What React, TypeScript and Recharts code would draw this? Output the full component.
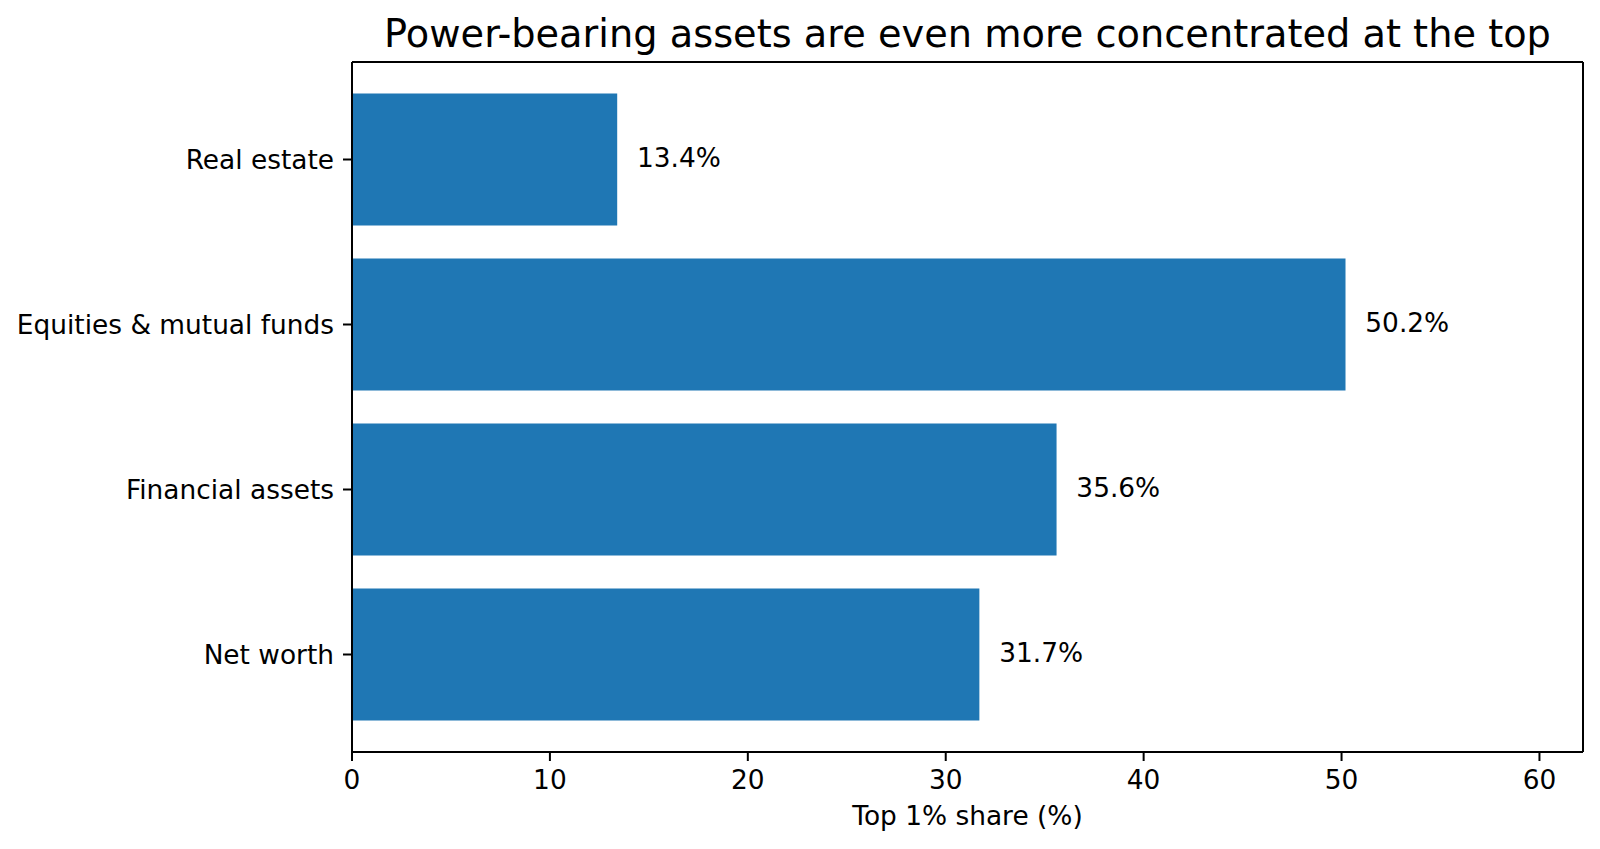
import React from 'react';
import { BarChart, Bar, XAxis, YAxis, LabelList } from 'recharts';

const categories = ['Real estate', 'Equities & mutual funds', 'Financial assets', 'Net worth'];
const shares = [13.4, 50.2, 35.6, 31.7];
const xTicks = [0, 10, 20, 30, 40, 50, 60];
const xMax = 62.2;

const data = categories.map((name, i) => ({ name, share: shares[i] }));

const FONT = '"DejaVu Sans", sans-serif';
const BLUE = '#1f77b4';
const spine = { stroke: '#000', strokeWidth: 2 };
const FS = 26.4;

// value label sits one data unit past the end of the bar
const renderValue = (props: any) => {
    const x = Number(props.x);
    const y = Number(props.y);
    const width = Number(props.width);
    const height = Number(props.height);
    const value = Number(props.value);
    const unit = width / value;
    return (
        <text x={x + width + unit} y={y + height / 2 + 7.7} fontSize={FS} fontFamily={FONT} fill="#000">
            {value.toFixed(1)}%
        </text>
    );
};

const renderAxisLabel = (props: any) => {
    const vb = props.viewBox || { x: 344, y: 744, width: 1231 };
    return (
        <text x={vb.x + vb.width / 2} y={vb.y + 73} textAnchor="middle" fontSize={FS} fontFamily={FONT} fill="#000">
            Top 1% share (%)
        </text>
    );
};

const App: React.FC = () => {
    return (
        <div style={{ width: 1584, height: 833 }}>
            <BarChart
                width={1584}
                height={833}
                layout="vertical"
                data={data}
                barCategoryGap="10%"
                margin={{ top: 53, right: 8, bottom: 0, left: 0 }}
            >
                <XAxis
                    type="number"
                    domain={[0, xMax]}
                    ticks={xTicks}
                    interval={0}
                    allowDataOverflow
                    height={89}
                    tickSize={9}
                    tickMargin={9}
                    axisLine={spine}
                    tickLine={spine}
                    tick={{ fill: '#000', fontSize: FS, fontFamily: FONT }}
                    label={{ content: renderAxisLabel }}
                />
                <XAxis
                    xAxisId="top"
                    orientation="top"
                    type="number"
                    domain={[0, xMax]}
                    height={1}
                    tick={false}
                    tickLine={false}
                    axisLine={spine}
                />
                <YAxis
                    type="category"
                    dataKey="name"
                    width={344}
                    padding={{ top: 15, bottom: 15 }}
                    tickSize={9}
                    tickMargin={9}
                    interval={0}
                    axisLine={spine}
                    tickLine={spine}
                    tick={{ fill: '#000', fontSize: FS, fontFamily: FONT }}
                />
                <YAxis
                    yAxisId="right"
                    orientation="right"
                    type="category"
                    dataKey="name"
                    width={1}
                    tick={false}
                    tickLine={false}
                    axisLine={spine}
                />
                <Bar dataKey="share" fill={BLUE} isAnimationActive={false}>
                    <LabelList dataKey="share" content={renderValue} />
                </Bar>
                <text x={959.5} y={38.7} textAnchor="middle" fontSize={38.3} fontFamily={FONT} fill="#000">
                    Power-bearing assets are even more concentrated at the top
                </text>
            </BarChart>
        </div>
    );
};

export default App;
